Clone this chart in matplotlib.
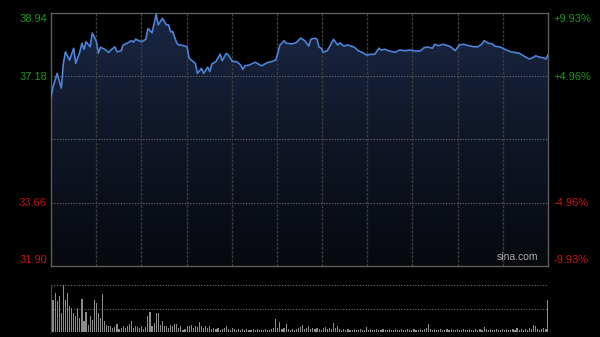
import matplotlib
matplotlib.use('Agg')
import matplotlib.pyplot as plt
import numpy as np
from matplotlib.colors import LinearSegmentedColormap
from matplotlib.patches import Polygon

# ---- data ----
times = [0, 1, 3, 5, 6, 7, 9, 11, 12, 14, 15, 16, 17, 19, 20, 21, 22, 23, 24, 26,
         28, 29, 31, 32, 34, 35, 37, 39, 40, 41, 44, 46, 47, 49, 51, 52, 54, 56, 57, 58,
         59, 61, 62, 63, 66, 67, 70, 71, 73, 74, 76, 77, 78, 80, 82, 83, 85, 86, 88, 90,
         92, 93, 94, 96, 99, 100, 102, 105, 107, 109, 110, 111, 112, 113, 114, 117, 119, 121, 122, 123,
         125, 126, 128, 129, 130, 131, 132, 134, 136, 137, 139, 140, 142, 144, 147, 149, 151, 153, 155, 157,
         159, 160, 162, 164, 167, 169, 172, 174, 177, 179, 181, 183, 185, 186, 188, 190, 193, 194, 196, 198,
         200, 202, 205, 207, 209, 210, 212, 214, 215, 218, 220, 223, 225, 227, 230, 232, 234, 235, 237, 239,
         240, 241]
prices = [36.59, 36.89, 37.26, 36.85, 37.54, 37.86, 37.63, 37.96, 37.54, 37.86, 38.10, 37.93, 38.14, 38.00, 38.38, 38.28, 38.14, 37.82, 37.99, 37.93,
          37.84, 37.91, 38.00, 37.86, 37.89, 38.05, 38.10, 38.17, 38.13, 38.21, 38.14, 38.21, 38.51, 38.39, 38.91, 38.61, 38.79, 38.61, 38.61, 38.42,
          38.42, 38.10, 38.05, 38.05, 38.00, 37.68, 37.54, 37.26, 37.40, 37.26, 37.43, 37.31, 37.52, 37.59, 37.80, 37.61, 37.82, 37.77, 37.59, 37.59,
          37.49, 37.37, 37.47, 37.49, 37.57, 37.54, 37.47, 37.56, 37.59, 37.63, 37.82, 38.05, 38.10, 38.17, 38.10, 38.08, 38.12, 38.24, 38.21, 38.17,
          38.02, 38.21, 38.24, 38.21, 37.99, 37.96, 37.85, 37.89, 38.10, 38.21, 38.05, 38.11, 38.02, 38.05, 37.99, 37.89, 37.84, 37.77, 37.79, 37.79,
          37.96, 37.91, 37.93, 37.88, 37.85, 37.91, 37.89, 37.91, 37.88, 37.88, 37.98, 37.99, 37.96, 38.07, 38.03, 38.07, 38.02, 37.99, 37.89, 38.05,
          38.07, 38.04, 38.00, 38.00, 38.08, 38.17, 38.10, 38.08, 38.02, 37.99, 37.93, 37.86, 37.84, 37.82, 37.72, 37.66, 37.71, 37.75, 37.71, 37.69,
          37.66, 37.77]
volumes = [34, 32, 39, 31, 36, 19, 47, 32, 39, 26,
           24, 19, 16, 24, 14, 33, 11, 20, 7, 16,
           12, 32, 29, 19, 14, 38, 11, 7, 6, 6,
           4, 5, 8, 3, 4, 6, 4, 6, 8, 11,
           4, 6, 5, 4, 6, 3, 5, 16, 20, 6,
           9, 19, 19, 7, 11, 6, 6, 4, 7, 6,
           8, 8, 4, 6, 2, 3, 6, 6, 7, 4,
           6, 5, 10, 6, 4, 6, 4, 6, 3, 4,
           3, 4, 2, 3, 4, 6, 3, 2, 4, 3,
           2, 3, 2, 3, 2, 3, 2, 2, 3, 2,
           3, 2, 2, 2, 3, 2, 2, 3, 4, 13,
           4, 10, 3, 4, 8, 3, 2, 3, 2, 3,
           4, 5, 7, 3, 4, 6, 3, 4, 3, 4,
           3, 2, 4, 5, 3, 4, 3, 9, 4, 6,
           3, 2, 3, 2, 3, 2, 2, 3, 2, 2,
           3, 2, 2, 5, 2, 3, 2, 2, 3, 2,
           2, 3, 2, 2, 3, 2, 2, 3, 2, 2,
           3, 2, 2, 3, 2, 2, 3, 2, 2, 3,
           2, 3, 4, 8, 3, 2, 3, 2, 2, 3,
           2, 2, 3, 2, 3, 2, 2, 3, 2, 2,
           3, 2, 2, 3, 2, 2, 3, 2, 3, 2,
           5, 3, 2, 3, 2, 2, 3, 2, 2, 3,
           2, 3, 2, 2, 3, 2, 4, 2, 3, 2,
           3, 2, 4, 3, 7, 6, 3, 2, 3, 4,
           3, 32]
prev_close = 35.42
price_low, price_high = 31.90, 38.94
left_vals = [38.94, 37.18, 33.66, 31.90]
left_labels = ['38.94', '37.18', '33.66', '31.90']
right_labels = ['+9.93%', '+4.96%', '-4.96%', '-9.93%']
label_colors = ['#1a9a1a', '#1a9a1a', '#c81414', '#c81414']
n_minutes = 241
n_sections = 11

W, H = 600, 337
fig = plt.figure(figsize=(W / 100, H / 100), dpi=100, facecolor='black')
plt.rcParams['font.family'] = ['Liberation Sans', 'DejaVu Sans']

# ---- main price panel ----
ax = fig.add_axes([51 / W, 71 / H, 497 / W, 253 / H])
ax.set_facecolor('black')
ax.set_xlim(0, n_minutes)
ax.set_ylim(price_low, price_high)

cmap = LinearSegmentedColormap.from_list('fillg', ['#07090e', '#0f1626', '#1a2744'])
grad = np.linspace(0, 1, 256).reshape(-1, 1)
im = ax.imshow(grad, extent=[0, n_minutes, price_low, price_high], origin='lower',
               aspect='auto', cmap=cmap, zorder=1, interpolation='bilinear')
verts = [(times[0], price_low)] + list(zip(times, prices)) + [(times[-1], price_low)]
clip = Polygon(verts, closed=True, transform=ax.transData, facecolor='none', edgecolor='none')
ax.add_patch(clip)
im.set_clip_path(clip)

for v in [left_vals[1], prev_close, left_vals[2]]:
    ax.axhline(v, color='#6e6e6e', lw=0.8, ls=(0, (1, 1.5)), zorder=2)
for k in range(1, n_sections):
    ax.axvline(n_minutes * k / n_sections, color='#3c3c3c', lw=1.0, ls=(0, (2, 1)), zorder=2)

ax.plot(times, prices, color='#4d82d6', lw=1.2, zorder=3)

for s in ax.spines.values():
    s.set_color('#5c5c5c')
    s.set_linewidth(1.0)
ax.set_xticks([])
ax.set_yticks([])

ax.text(0.98, 0.015, 'sina.com', transform=ax.transAxes, ha='right', va='bottom',
        fontsize=7.5, color='#a8a8a8', zorder=4)

ypos = [19, 77, 203, 260]
for yp, lt, rt, c in zip(ypos, left_labels, right_labels, label_colors):
    fig.text(47 / W, 1 - yp / H, lt, ha='right', va='center', fontsize=8, color=c)
    fig.text(553 / W, 1 - yp / H, rt, ha='left', va='center', fontsize=8, color=c)

# ---- volume panel ----
axv = fig.add_axes([51 / W, 5 / H, 497 / W, 47 / H])
axv.set_facecolor('black')
axv.set_xlim(0, n_minutes)
vmax = max(volumes)
axv.set_ylim(0, vmax)
axv.bar(range(len(volumes)), volumes, width=0.55, color='#8c8c8c', zorder=2)
axv.axhline(vmax, color='#707070', lw=0.8, ls=(0, (1, 1.5)), zorder=1, clip_on=False)
axv.axhline(vmax / 2, color='#707070', lw=0.8, ls=(0, (1, 1.5)), zorder=1)
for name, s in axv.spines.items():
    if name == 'left':
        s.set_color('#4a4a4a')
    else:
        s.set_visible(False)
axv.set_xticks([])
axv.set_yticks([])

fig.savefig('out.png', dpi=100, facecolor='black')
